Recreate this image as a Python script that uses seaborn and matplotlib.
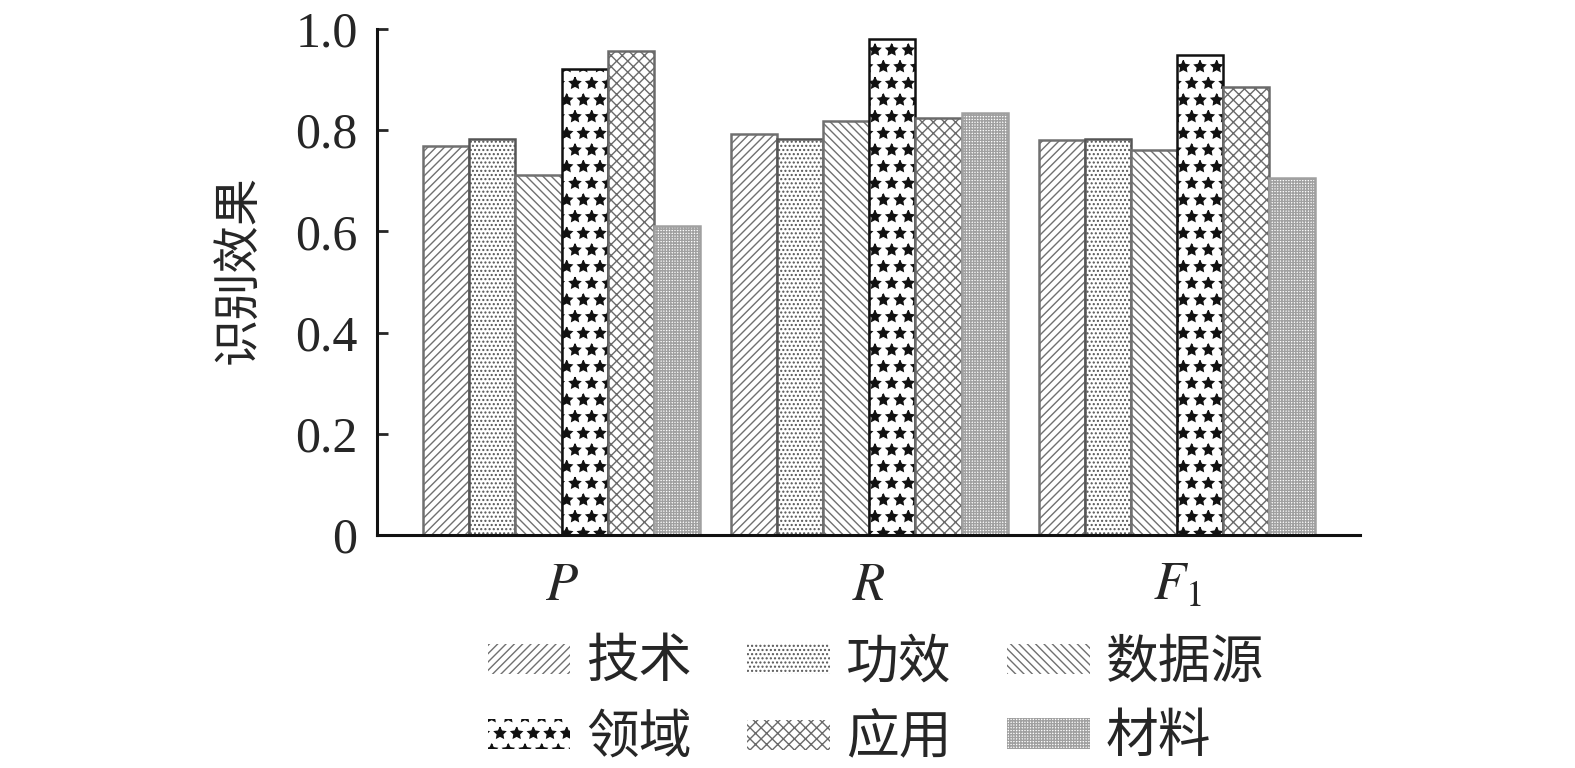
import matplotlib
matplotlib.use("Agg")
import matplotlib.pyplot as plt
import seaborn as sns
import pandas as pd

# Data
metrics = ["P", "R", "F1"]
metric_labels = ["$P$", "$R$", "$F_1$"]
categories = ["技术", "功效", "数据源", "领域", "应用", "材料"]
tech = [0.768, 0.792, 0.780]
effect = [0.782, 0.782, 0.782]
source = [0.711, 0.818, 0.760]
domain = [0.921, 0.980, 0.949]
application = [0.956, 0.824, 0.885]
material = [0.610, 0.834, 0.705]
y_ticks = [0, 0.2, 0.4, 0.6, 0.8, 1.0]
y_tick_labels = ["0", "0.2", "0.4", "0.6", "0.8", "1.0"]

series = [tech, effect, source, domain, application, material]
rows = []
for cat, vals in zip(categories, series):
    for m, v in zip(metrics, vals):
        rows.append({"指标": m, "类别": cat, "值": v})
df = pd.DataFrame(rows)

sns.set_style("ticks")
plt.rcParams["font.family"] = ["Liberation Serif", "Noto Sans CJK SC"]
plt.rcParams["mathtext.fontset"] = "stix"
plt.rcParams["hatch.linewidth"] = 1.0

fig = plt.figure(figsize=(15.75, 7.68), dpi=100)
ax = fig.add_axes([0.2394, 0.3034, 0.8635 - 0.2394, 0.9622 - 0.3034])

sns.barplot(data=df, x="指标", y="值", hue="类别", order=metrics,
            hue_order=categories, palette=["white"] * 6, saturation=1,
            width=0.9, gap=0, edgecolor="#7a7a7a", linewidth=1.8,
            legend=False, ax=ax)

hatches = ["////", "....", "\\\\\\\\", "*", "xxx", "++++++"]
hatch_edges = ["#707070", "#555555", "#707070", "#111111", "#6a6a6a", "#a0a0a0"]
for cont, h, ec, cat in zip(ax.containers, hatches, hatch_edges, categories):
    cont.set_label(cat)
    for bar in cont:
        bar.set_hatch(h)
        bar.set_edgecolor(ec)

ax.set_xlim(-0.6, 2.595)
ax.set_ylim(0, 1.0)
ax.set_yticks(y_ticks)
ax.set_yticklabels(y_tick_labels)
ax.set_xticks(range(len(metrics)))
ax.set_xticklabels(metric_labels)
ax.set_xlabel("")
ax.set_ylabel("识别效果", fontsize=34)
ax.yaxis.set_label_coords(-0.118, 0.524)

ax.tick_params(axis="y", direction="in", length=8, width=2, labelsize=36, pad=14)
ax.tick_params(axis="x", length=0, labelsize=38, pad=20)
for s in ["top", "right"]:
    ax.spines[s].set_visible(False)
for s in ["left", "bottom"]:
    ax.spines[s].set_linewidth(2.2)
    ax.spines[s].set_color("#111111")

# Row-major legend order for a 3-column, 2-row layout
conts = list(ax.containers)
order = [0, 3, 1, 4, 2, 5]
leg = fig.legend(handles=[conts[i] for i in order],
                 labels=[categories[i] for i in order], ncol=3,
                 loc="upper center", bbox_to_anchor=(0.556, 0.195),
                 frameon=False, fontsize=38, handlelength=1.57,
                 handleheight=0.5, handletextpad=0.3, columnspacing=1.05,
                 labelspacing=0.5, borderaxespad=0)
# Legend swatches show only the fill pattern, without an outline
for p in leg.get_patches():
    p.set_linewidth(0)

fig.savefig("out.png", dpi=100)
